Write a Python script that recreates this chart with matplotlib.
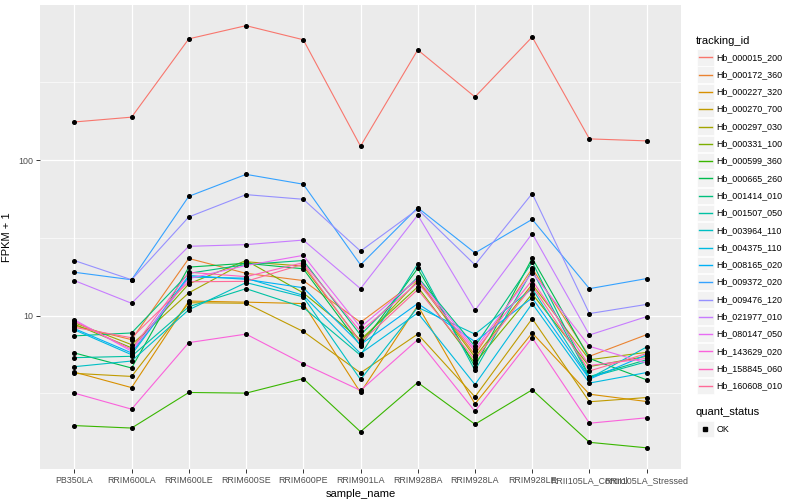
import numpy as np
import matplotlib
matplotlib.use("Agg")
import matplotlib.pyplot as plt
from matplotlib.patches import Rectangle
from matplotlib.lines import Line2D

plt.rcParams['font.family'] = ['Liberation Sans', 'DejaVu Sans']

samples = ["PB350LA", "RRIM600LA", "RRIM600LE", "RRIM600SE", "RRIM600PE",
           "RRIM901LA", "RRIM928BA", "RRIM928LA", "RRIM928LE",
           "RRII105LA_Control", "RRII105LA_Stressed"]

tracking_ids = ["Hb_000015_200", "Hb_000172_360", "Hb_000227_320", "Hb_000270_700",
                "Hb_000297_030", "Hb_000331_100", "Hb_000599_360", "Hb_000665_260",
                "Hb_001414_010", "Hb_001507_050", "Hb_003964_110", "Hb_004375_110",
                "Hb_008165_020", "Hb_009372_020", "Hb_009476_120", "Hb_021977_010",
                "Hb_080147_050", "Hb_143629_020", "Hb_158845_060", "Hb_160608_010"]

# FPKM + 1 per gene, one value per sample
fpkm = {
    "Hb_000015_200": [176, 189, 603, 733, 595, 123, 512, 255, 620, 137, 133],
    "Hb_000172_360": [8.6, 7.0, 23.3, 18.7, 16.8, 9.05, 17.0, 5.6, 20.1, 5.47, 7.54],
    "Hb_000227_320": [4.33, 3.44, 12.4, 12.2, 11.95, 3.2, 11.6, 2.7, 7.73, 3.12, 2.8],
    "Hb_000270_700": [4.25, 4.06, 12.1, 12.0, 7.9, 4.28, 7.6, 3.0, 9.56, 2.79, 2.97],
    "Hb_000297_030": [9.0, 6.5, 14.0, 22.2, 20.8, 6.8, 16.7, 5.4, 15.9, 5.2, 5.8],
    "Hb_000331_100": [8.8, 6.2, 16.0, 22.6, 14.0, 7.0, 15.3, 4.95, 13.8, 4.7, 5.47],
    "Hb_000599_360": [1.96, 1.89, 3.2, 3.17, 3.93, 1.79, 3.71, 2.0, 3.33, 1.53, 1.41],
    "Hb_000665_260": [5.75, 4.6, 20.5, 21.7, 20.0, 6.4, 20.1, 4.7, 23.4, 5.3, 3.86],
    "Hb_001414_010": [7.4, 7.73, 18.7, 21.3, 22.6, 7.5, 17.7, 6.34, 22.1, 4.05, 5.2],
    "Hb_001507_050": [5.36, 5.47, 11.4, 14.9, 11.3, 5.55, 21.5, 4.44, 19.5, 4.0, 5.05],
    "Hb_003964_110": [4.69, 5.1, 10.9, 16.3, 13.2, 3.88, 11.3, 7.6, 14.9, 3.95, 6.28],
    "Hb_004375_110": [8.1, 5.6, 17.7, 17.4, 13.5, 5.7, 10.4, 3.6, 11.95, 3.68, 4.3],
    "Hb_008165_020": [8.25, 5.75, 18.1, 17.1, 15.1, 6.5, 11.95, 6.8, 13.0, 3.9, 5.6],
    "Hb_009372_020": [19.0, 17.0, 58.5, 81.0, 70.0, 21.2, 49.4, 25.3, 41.6, 14.9, 17.3],
    "Hb_009476_120": [22.6, 17.0, 43.1, 60.0, 56.0, 26.0, 48.3, 21.2, 61.0, 10.3, 11.8],
    "Hb_021977_010": [16.8, 12.0, 27.9, 28.6, 30.6, 14.9, 44.3, 10.8, 33.7, 7.5, 9.85],
    "Hb_080147_050": [9.4, 5.9, 17.3, 21.0, 24.4, 8.4, 17.3, 6.1, 18.9, 6.34, 4.95],
    "Hb_143629_020": [3.17, 2.5, 6.7, 7.6, 4.9, 3.3, 7.0, 2.42, 7.2, 2.03, 2.2],
    "Hb_158845_060": [9.2, 6.06, 19.0, 17.8, 21.9, 7.9, 16.3, 5.9, 16.9, 4.77, 5.3],
    "Hb_160608_010": [8.4, 7.2, 16.5, 16.6, 21.4, 6.7, 14.7, 5.2, 15.5, 4.4, 5.7],
}


def hue_pal(n, c=100.0, l=65.0):
    # ggplot2 default discrete palette (polar LUV -> sRGB)
    hues = np.linspace(15, 375, n + 1)[:n]
    xn, yn, zn = 95.047, 100.0, 108.883
    un = 4 * xn / (xn + 15 * yn + 3 * zn)
    vn = 9 * yn / (xn + 15 * yn + 3 * zn)
    m = np.array([[3.2404542, -1.5371385, -0.4985314],
                  [-0.9692660, 1.8760108, 0.0415560],
                  [0.0556434, -0.2040259, 1.0572252]])
    out = []
    for h in hues:
        u = c * np.cos(np.radians(h))
        v = c * np.sin(np.radians(h))
        Y = yn * ((l + 16) / 116) ** 3
        up = u / (13 * l) + un
        vp = v / (13 * l) + vn
        X = Y * 9 * up / (4 * vp)
        Z = Y * (12 - 3 * up - 20 * vp) / (4 * vp)
        rgb = m @ (np.array([X, Y, Z]) / 100)
        rgb = np.where(rgb <= 0.0031308, 12.92 * rgb, 1.055 * np.abs(rgb) ** (1 / 2.4) - 0.055)
        out.append(tuple(np.clip(rgb, 0, 1)))
    return out


colors = hue_pal(len(tracking_ids))

fig = plt.figure(figsize=(8, 5), dpi=100)
ax = fig.add_axes([40 / 800, 1 - 469 / 500, (681 - 40) / 800, 464 / 500])
ax.set_facecolor("#EBEBEB")
for s in ax.spines.values():
    s.set_visible(False)

x = np.arange(len(samples))
for tid, col in zip(tracking_ids, colors):
    ax.plot(x, fpkm[tid], color=col, lw=0.8, zorder=3)
for tid in tracking_ids:
    ax.plot(x, fpkm[tid], ls="none", marker="o", ms=2.6, mfc="black", mec="black", zorder=4)

ax.set_yscale("log")
ax.set_ylim(10 ** 0.013, 10 ** 2.998)
ax.set_xlim(-0.6, len(samples) - 0.4)
ax.set_yticks([10, 100])
ax.set_yticklabels(["10", "100"])
ax.set_yticks([10 ** 0.5, 10 ** 1.5, 10 ** 2.5], minor=True)
ax.yaxis.set_minor_formatter(plt.NullFormatter())
ax.set_xticks(x)
ax.set_xticklabels(samples)
ax.tick_params(axis="both", which="major", length=3, width=0.7, color="#333333",
               labelcolor="#4D4D4D", labelsize=6.4, pad=2)
ax.tick_params(axis="y", which="minor", length=0)
ax.grid(True, which="major", color="white", lw=0.9, zorder=0)
ax.grid(True, which="minor", axis="y", color="white", lw=0.45, zorder=0)
ax.set_axisbelow(True)
ax.set_xlabel("sample_name", fontsize=8, labelpad=3)
ax.set_ylabel("FPKM + 1", fontsize=8, labelpad=4)

# legend drawn in pixel coordinates
lg = fig.add_axes([0, 0, 1, 1], facecolor="none")
lg.set_xlim(0, 800)
lg.set_ylim(500, 0)
lg.axis("off")
lg.text(696, 41, "tracking_id", fontsize=8, va="center", ha="left")
for i, (tid, col) in enumerate(zip(tracking_ids, colors)):
    yc = 57.3 + i * 17.3
    lg.add_patch(Rectangle((697, yc - 8.2), 16.5, 16.4, facecolor="#F2F2F2",
                           edgecolor="white", lw=0.5, zorder=1))
    lg.add_line(Line2D([698.5, 711.5], [yc, yc], color=col, lw=1.0, zorder=3))
    lg.text(716.5, yc, tid, fontsize=6.4, va="center", ha="left")
lg.text(696, 412, "quant_status", fontsize=8, va="center", ha="left")
lg.add_patch(Rectangle((697, 429 - 8.2), 16.5, 16.4, facecolor="#F2F2F2",
                       edgecolor="white", lw=0.5, zorder=1))
lg.plot([705.2], [429], marker="s", ms=2.6, color="black", ls="none", zorder=3)
lg.text(716.5, 429, "OK", fontsize=6.4, va="center", ha="left")

fig.savefig("out.png", dpi=100)
